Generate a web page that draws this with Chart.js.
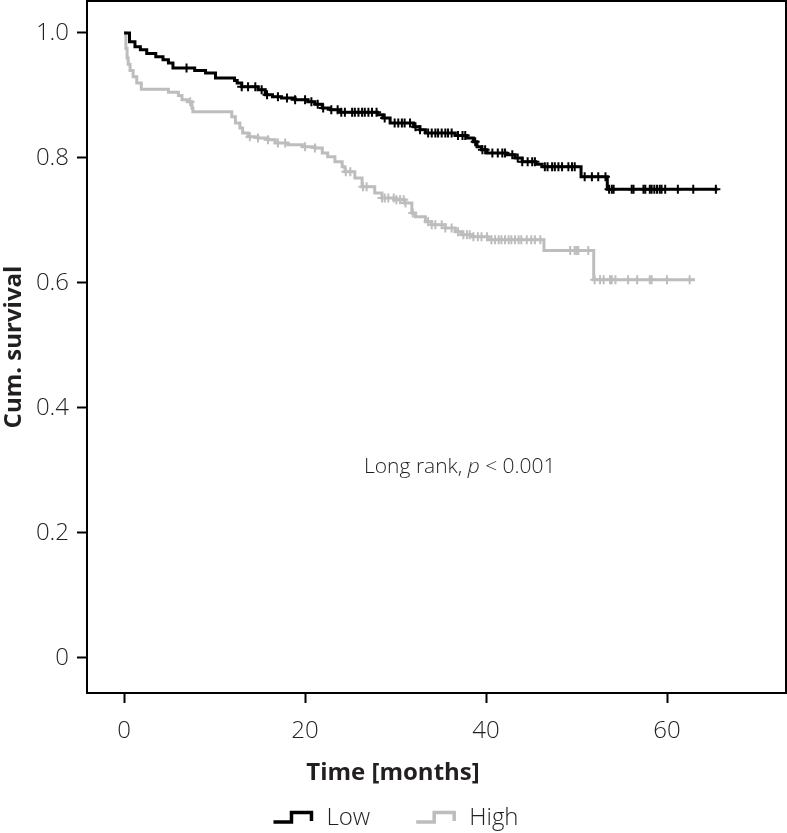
<!DOCTYPE html>
<html><head><meta charset="utf-8">
<script src="https://cdn.jsdelivr.net/npm/chart.js@4/dist/chart.umd.min.js"></script>
<style>html,body{margin:0;padding:0;background:#fff}#wrap{width:787px;height:833px;position:relative}</style>
</head><body><div id="wrap"><canvas id="c"></canvas></div>
<script>
// ---- data ----
const seriesNames = ['Low', 'High'];
const lowTimes = [0, 0.6, 1.2, 1.8, 2.5, 3.5, 4.3, 4.9, 5.4, 7.8, 9.0, 10.1, 12.2, 12.5, 13.0, 14.8, 15.6, 16.4, 17.4, 18.9, 20.3, 21.1, 21.9, 22.8, 23.9, 28.0, 28.6, 29.4, 32.0, 32.7, 33.3, 36.6, 37.9, 38.6, 39.0, 39.5, 40.1, 42.3, 43.2, 44.0, 45.5, 46.2, 50.5, 53.4, 65.6];
const lowSurvival = [1.0, 0.986, 0.978, 0.973, 0.967, 0.962, 0.957, 0.952, 0.944, 0.94, 0.936, 0.928, 0.924, 0.92, 0.914, 0.909, 0.901, 0.898, 0.896, 0.893, 0.89, 0.886, 0.88, 0.877, 0.873, 0.869, 0.864, 0.856, 0.85, 0.845, 0.84, 0.836, 0.832, 0.826, 0.818, 0.813, 0.808, 0.805, 0.8, 0.794, 0.79, 0.786, 0.77, 0.75, 0.75];
const lowCensorTimes = [6.9, 13.0, 13.7, 14.5, 15.2, 15.8, 17.0, 18.0, 18.9, 20.0, 20.7, 21.4, 22.0, 22.9, 23.6, 24.0, 24.4, 25.2, 25.5, 25.9, 26.3, 26.6, 27.0, 27.4, 27.9, 28.8, 29.9, 30.3, 30.7, 31.0, 31.6, 32.2, 32.7, 33.6, 34.0, 34.4, 34.7, 35.1, 35.5, 35.8, 36.2, 36.9, 37.4, 37.7, 38.8, 39.6, 39.9, 40.7, 41.3, 41.8, 42.1, 42.9, 43.5, 44.0, 44.6, 45.1, 45.4, 46.5, 46.8, 47.3, 47.6, 48.0, 48.4, 49.1, 49.5, 49.8, 50.9, 51.7, 52.4, 53.2, 53.6, 53.9, 54.1, 56.1, 56.3, 57.4, 57.6, 58.1, 58.3, 58.6, 58.9, 59.2, 59.4, 59.8, 61.2, 62.9, 65.4];
const highTimes = [0, 0.2, 0.33, 0.45, 0.66, 1.0, 1.4, 1.9, 4.9, 6.0, 6.4, 7.0, 7.5, 7.6, 11.9, 12.3, 12.8, 13.1, 13.7, 14.8, 15.9, 16.7, 18.1, 19.7, 21.1, 21.9, 22.5, 23.3, 24.1, 24.4, 25.5, 26.3, 27.7, 28.5, 29.9, 31.0, 31.8, 32.2, 33.3, 34.0, 35.5, 36.6, 37.3, 38.5, 40.2, 46.4, 51.9, 63.1];
const highSurvival = [1.0, 0.975, 0.96, 0.95, 0.94, 0.93, 0.92, 0.91, 0.905, 0.9, 0.893, 0.89, 0.88, 0.874, 0.866, 0.856, 0.848, 0.84, 0.834, 0.832, 0.829, 0.824, 0.821, 0.818, 0.816, 0.808, 0.802, 0.794, 0.786, 0.778, 0.768, 0.754, 0.744, 0.736, 0.733, 0.728, 0.712, 0.706, 0.698, 0.693, 0.688, 0.682, 0.677, 0.674, 0.669, 0.652, 0.605, 0.605];
const highCensorTimes = [7.3, 13.9, 14.8, 15.9, 17.0, 17.8, 20.0, 21.1, 24.5, 25.0, 26.4, 26.8, 28.5, 28.8, 29.2, 29.8, 30.1, 30.5, 30.9, 31.1, 31.9, 33.6, 34.0, 34.4, 35.1, 35.5, 36.2, 36.9, 37.5, 37.9, 38.2, 38.6, 39.1, 39.5, 40.1, 40.6, 41.0, 41.4, 41.7, 42.1, 42.5, 42.8, 43.2, 43.6, 43.9, 44.5, 45.0, 45.4, 46.0, 49.3, 49.8, 50.0, 50.2, 51.3, 52.0, 52.6, 53.0, 53.7, 53.9, 54.3, 55.7, 56.7, 58.1, 58.3, 60.0, 62.5];
const xTickValues = [0, 20, 40, 60];
const yTickValues = [0, 0.2, 0.4, 0.6, 0.8, 1.0];
const xAxisTitle = 'Time [months]';
const yAxisTitle = 'Cum. survival';
const annotationParts = [['Long rank, ', 'normal'], ['p', 'italic'], [' < 0.001', 'normal']];

// ---- styling ----
const FONT = "'Open Sans', 'DejaVu Sans', sans-serif";
const TEXT = '#231f20';
const LOW_COLOR = '#000000';
const HIGH_COLOR = '#bdbdbd';

function survivalAt(times, surv, t) {
  let v = surv[0];
  for (let i = 0; i < times.length; i++) { if (times[i] <= t) v = surv[i]; }
  return v;
}
const toPts = (ts, ss) => ts.map((t, i) => ({x: t, y: ss[i]}));
const censorPts = (cts, ts, ss) => cts.map(t => ({x: t, y: survivalAt(ts, ss, t)}));

const framePlugin = {
  id: 'frame',
  afterDatasetsDraw(chart) {
    const {ctx, chartArea: a} = chart;
    ctx.save();
    ctx.strokeStyle = '#000'; ctx.lineWidth = 2;
    ctx.strokeRect(a.left, a.top, a.right - a.left, a.bottom - a.top);
    ctx.restore();
  }
};

const annotationPlugin = {
  id: 'annot',
  afterDatasetsDraw(chart) {
    const {ctx, scales: {x, y}} = chart;
    const cx = x.getPixelForValue(37.1), cy = y.getPixelForValue(0.306);
    ctx.save();
    ctx.fillStyle = TEXT; ctx.textBaseline = 'middle'; ctx.textAlign = 'left';
    const fonts = annotationParts.map(p => `${p[1] === 'italic' ? 'italic ' : ''}300 21px ${FONT}`);
    let total = 0;
    annotationParts.forEach((p, i) => { ctx.font = fonts[i]; total += ctx.measureText(p[0]).width; });
    let px = cx - total / 2;
    annotationParts.forEach((p, i) => { ctx.font = fonts[i]; ctx.fillText(p[0], px, cy); px += ctx.measureText(p[0]).width; });
    ctx.restore();
  }
};

function drawStair(ctx, x, y, color) {
  ctx.save();
  ctx.strokeStyle = color; ctx.lineWidth = 3.5; ctx.lineJoin = 'miter'; ctx.lineCap = 'butt';
  ctx.beginPath();
  ctx.moveTo(x, y + 5); ctx.lineTo(x + 18, y + 5); ctx.lineTo(x + 18, y - 4.5);
  ctx.lineTo(x + 38, y - 4.5); ctx.lineTo(x + 38, y + 4);
  ctx.stroke();
  ctx.restore();
}

const legendPlugin = {
  id: 'kmLegend',
  afterDraw(chart) {
    const {ctx} = chart;
    const colors = [LOW_COLOR, HIGH_COLOR];
    ctx.save();
    ctx.font = `300 24px ${FONT}`;
    const iconW = 38, gap = 15, spacing = 46;
    const widths = seriesNames.map(n => iconW + gap + ctx.measureText(n).width);
    const total = widths.reduce((a, b) => a + b, 0) + spacing * (seriesNames.length - 1);
    let px = 396 - total / 2;
    const cy = 817;
    seriesNames.forEach((n, i) => {
      drawStair(ctx, px, cy, colors[i]);
      ctx.fillStyle = TEXT; ctx.textBaseline = 'middle'; ctx.textAlign = 'left';
      ctx.fillText(n, px + iconW + gap, cy + 1);
      px += widths[i] + spacing;
    });
    ctx.restore();
  }
};

const tickFont = {family: FONT, size: 24, weight: '300'};
const noPad = s => { s.paddingTop = 0; s.paddingBottom = 0; s.paddingLeft = 0; s.paddingRight = 0; };

new Chart(document.getElementById('c'), {
  type: 'line',
  data: {
    datasets: [
      {label: seriesNames[1], data: toPts(highTimes, highSurvival), borderColor: HIGH_COLOR, borderWidth: 3, stepped: 'before', pointRadius: 0, fill: false, order: 4},
      {label: seriesNames[1] + ' censored', data: censorPts(highCensorTimes, highTimes, highSurvival), showLine: false, pointStyle: 'cross', pointRadius: 4.5, pointBorderWidth: 2, pointBorderColor: HIGH_COLOR, borderColor: HIGH_COLOR, order: 3},
      {label: seriesNames[0], data: toPts(lowTimes, lowSurvival), borderColor: LOW_COLOR, borderWidth: 3, stepped: 'before', pointRadius: 0, fill: false, order: 2},
      {label: seriesNames[0] + ' censored', data: censorPts(lowCensorTimes, lowTimes, lowSurvival), showLine: false, pointStyle: 'cross', pointRadius: 4.5, pointBorderWidth: 2, pointBorderColor: LOW_COLOR, borderColor: LOW_COLOR, order: 1}
    ]
  },
  options: {
    responsive: true, maintainAspectRatio: false, animation: false, devicePixelRatio: 1,
    layout: {padding: {top: 1, right: 1, left: 0, bottom: 35.6}, autoPadding: false},
    plugins: {
      legend: {display: false},
      tooltip: {enabled: false},
      title: {display: true, position: 'bottom', text: xAxisTitle, color: TEXT,
        font: {family: FONT, size: 24, weight: 'bold'}, padding: {top: 7.6, bottom: 10}}
    },
    scales: {
      x: {
        type: 'linear', min: -4.1, max: 73.15,
        afterBuildTicks: s => { s.ticks = xTickValues.map(v => ({value: v})); },
        afterFit: s => { s.height = 58; noPad(s); },
        grid: {drawOnChartArea: false, drawTicks: true, tickLength: 10, tickWidth: 2, tickColor: '#000'},
        border: {display: true, color: '#000', width: 2},
        ticks: {color: TEXT, font: tickFont, padding: 14, maxRotation: 0, callback: v => String(v)}
      },
      y: {
        type: 'linear', min: -0.056, max: 1.051,
        afterBuildTicks: s => { s.ticks = yTickValues.map(v => ({value: v})); },
        afterFit: s => { s.width = 87; noPad(s); },
        grid: {drawOnChartArea: false, drawTicks: true, tickLength: 10, tickWidth: 2, tickColor: '#000'},
        border: {display: true, color: '#000', width: 2},
        ticks: {color: TEXT, font: tickFont, padding: 8, callback: v => v === 0 ? '0' : v.toFixed(1)},
        title: {display: true, text: yAxisTitle, color: TEXT, font: {family: FONT, size: 24, weight: 'bold'}, padding: 0}
      }
    }
  },
  plugins: [framePlugin, annotationPlugin, legendPlugin]
});
</script></body></html>
